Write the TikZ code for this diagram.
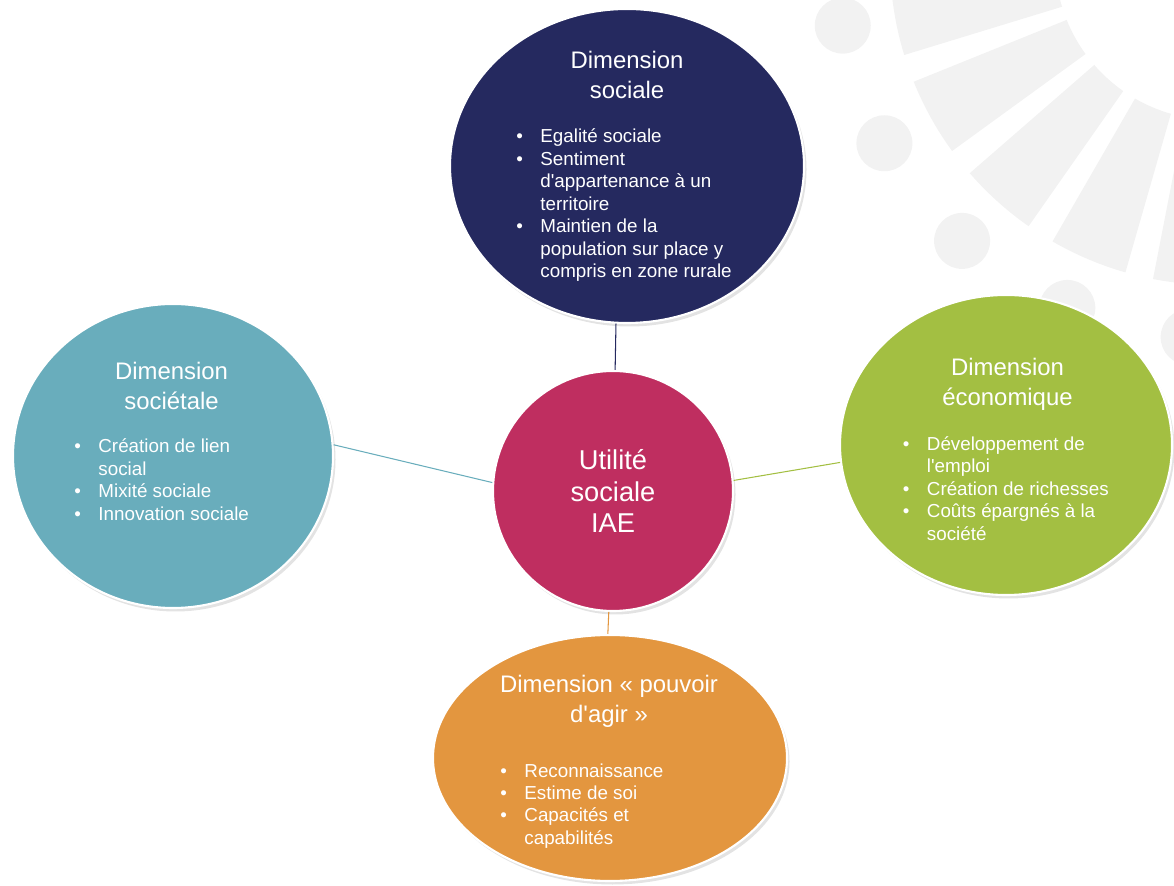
\documentclass[tikz,border=0pt]{standalone}
\usepackage{fontspec}
\setmainfont{Liberation Sans}[Ligatures=TeXOff]
\definecolor{iaeNavy}{HTML}{25295F}
\definecolor{iaeMagenta}{HTML}{BF2E60}
\definecolor{iaeTeal}{HTML}{69ADBC}
\definecolor{iaeGreen}{HTML}{A3BF42}
\definecolor{iaeOrange}{HTML}{E3963F}
\definecolor{iaeMark}{HTML}{F2F2F2}
\usepackage{tikz}
\usetikzlibrary{shapes.geometric,shadows}

\begin{document}
\begin{tikzpicture}[
  dimension/.style={ellipse, draw=white, line width=1.2pt, inner sep=0pt,
    drop shadow={opacity=0.22, shadow xshift=0.05cm, shadow yshift=-0.07cm}},
  dimtitle/.style={text=white, align=center, inner sep=0pt, font=\fontsize{13.6}{17}\selectfont},
  itemlist/.style={text=white, anchor=base west, inner sep=0pt, font=\fontsize{10.7}{12.8}\selectfont},
  spoke/.style={line width=0.6pt}
]
  \useasboundingbox (0,0) rectangle (23.48,17.7);
  \clip (0,0) rectangle (23.48,17.7);

  % Watermark rays in the corner
  \foreach \a in {190,209,228,247,266} {
    \fill[iaeMark] ([shift={(\a-7:3.2)}]24.3,18.5) arc[start angle=\a-7, end angle=\a+7, radius=3.2]
      -- ([shift={(\a+7:6.5)}]24.3,18.5) arc[start angle=\a+7, end angle=\a-7, radius=6.5] -- cycle;
    \fill[iaeMark] ([shift={(\a:7.56)}]24.3,18.5) circle (0.56);
  }

  % Dimensions
  \node[dimension, fill=iaeNavy, minimum width=7.08cm, minimum height=6.28cm] (social) at (12.54,14.38) {};
  \node[dimension, fill=iaeTeal, minimum width=6.4cm, minimum height=6.08cm] (societal) at (3.46,8.58) {};
  \node[dimension, fill=iaeGreen, minimum width=6.64cm, minimum height=6.0cm] (economic) at (20.12,8.8) {};
  \node[dimension, fill=iaeOrange, minimum width=7.08cm, minimum height=4.92cm] (agency) at (12.2,2.54) {};

  % Hub
  \node[dimension, fill=iaeMagenta, minimum size=4.8cm, text=white, align=center,
    font=\fontsize{15.5}{17.9}\selectfont] (hub) at (12.26,7.88) {Utilité\\sociale\\IAE};

  % Spokes
  \draw[spoke, iaeNavy] (hub.89) -- (social.266);
  \draw[spoke, iaeTeal] (hub.176) -- (societal.4);
  \draw[spoke, iaeGreen] (hub.5) -- (economic.186);
  \draw[spoke, iaeOrange] (hub.268) -- (agency.91);

  % Social
  \node[dimtitle] (socialTitle) at (12.54,16.20) {Dimension\\sociale};
  \node[itemlist] (socialList) at (10.32,14.84) {\begin{tabular}[t]{@{}p{13.7pt}@{}l@{}}
    \textbullet & Egalité sociale\\
    \textbullet & Sentiment\\
                & d'appartenance à un\\
                & territoire\\
    \textbullet & Maintien de la\\
                & population sur place y\\
                & compris en zone rurale
  \end{tabular}};

  % Societal
  \node[dimtitle] (societalTitle) at (3.43,9.98) {Dimension\\sociétale};
  \node[itemlist] (societalList) at (1.48,8.64) {\begin{tabular}[t]{@{}p{13.7pt}@{}l@{}}
    \textbullet & Création de lien\\
                & social\\
    \textbullet & Mixité sociale\\
    \textbullet & Innovation sociale
  \end{tabular}};

  % Economic
  \node[dimtitle] (economicTitle) at (20.15,10.01) {Dimension\\économique};
  \node[itemlist] (economicList) at (18.05,8.69) {\begin{tabular}[t]{@{}p{13.7pt}@{}l@{}}
    \textbullet & Développement de\\
                & l'emploi\\
    \textbullet & Création de richesses\\
    \textbullet & Coûts épargnés à la\\
                & société
  \end{tabular}};

  % Agency
  \node[dimtitle] (agencyTitle) at (12.18,3.67) {Dimension « pouvoir\\d'agir »};
  \node[itemlist] (agencyList) at (10.0,2.16) {\begin{tabular}[t]{@{}p{13.7pt}@{}l@{}}
    \textbullet & Reconnaissance\\
    \textbullet & Estime de soi\\
    \textbullet & Capacités et\\
                & capabilités
  \end{tabular}};

\end{tikzpicture}
\end{document}
